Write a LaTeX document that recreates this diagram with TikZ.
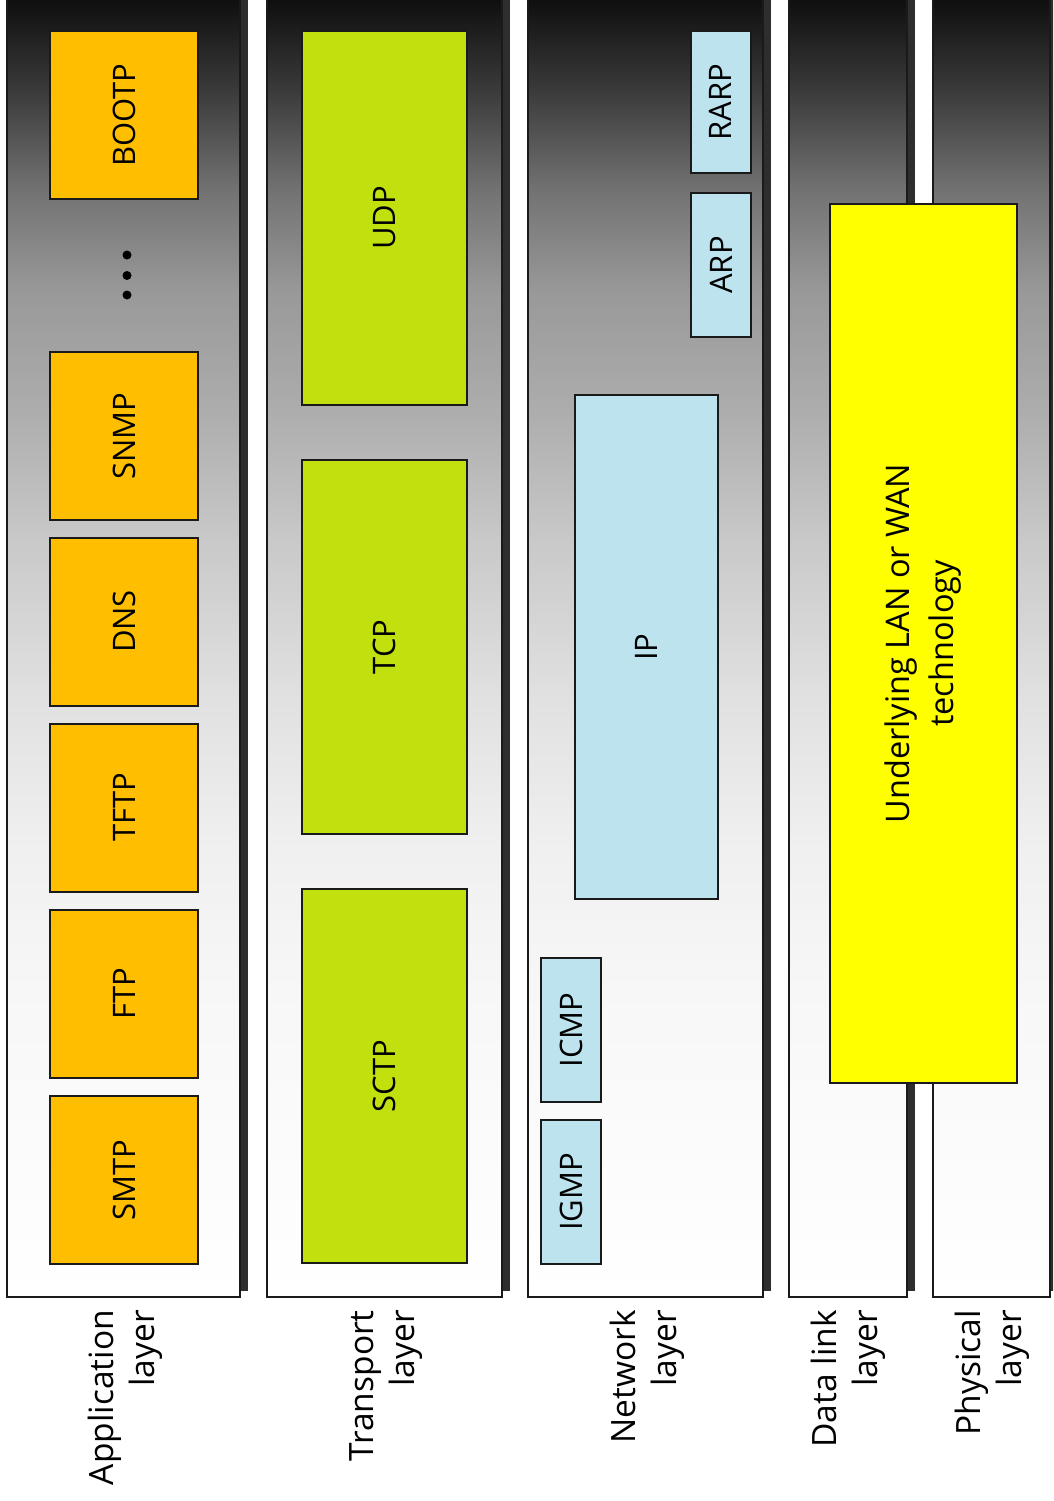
\documentclass[tikz,border=0pt]{standalone}
\usepackage{fontspec}
\setmainfont{Open Sans}
\definecolor{linec}{HTML}{1A1A1A}
\definecolor{shadowc}{HTML}{2E2E2E}
\definecolor{orangec}{HTML}{FFBF00}
\definecolor{greenc}{HTML}{C2E00E}
\definecolor{bluec}{HTML}{BCE3EE}
\definecolor{yellowc}{HTML}{FFFF00}
\definecolor{gA}{gray}{0.04}
\definecolor{gB}{gray}{0.23}
\definecolor{gC}{gray}{0.45}
\definecolor{gD}{gray}{0.60}
\definecolor{gE}{gray}{0.68}
\definecolor{gF}{gray}{0.79}
\definecolor{gG}{gray}{0.88}
\definecolor{gH}{gray}{0.94}
\definecolor{gI}{gray}{0.97}
\pgfdeclareverticalshading{colgrad}{100bp}{color(0bp)=(white); color(25bp)=(white); color(36.45bp)=(gI); color(42.23bp)=(gH); color(48.01bp)=(gG); color(53.8bp)=(gF); color(58.81bp)=(gE); color(63.43bp)=(gD); color(67.29bp)=(gC); color(71.14bp)=(gB); color(75bp)=(gA); color(100bp)=(gA)}
\begin{document}
\begin{tikzpicture}[x=1pt,y=-1pt,
  box/.style={draw=linec, line width=2, rotate=90, inner sep=0, outer sep=0,
    font=\fontsize{31}{37}\selectfont},
  appbox/.style={box, fill=orangec, minimum width=168, minimum height=148},
  trbox/.style={box, fill=greenc, minimum width=374, minimum height=165},
  netbox/.style={box, fill=bluec, minimum width=144, minimum height=60},
  lbl/.style={rotate=90, anchor=east, align=right, inner sep=0,
    font=\fontsize{33.5}{41}\selectfont},
  colframe/.style={shading=colgrad, draw=linec, line width=2}
]
\useasboundingbox (0,0) rectangle (1053,1501);
\fill[white] (0,0) rectangle (1053,1501);
\begin{scope}
\clip (0,0) rectangle (1053,1501);
\foreach \a/\b in {7/240,267/502,528/763,789/907,933/1050}{
  \fill[shadowc] (\a+8,-10) rectangle (\b+8,1291);
}
\foreach \a/\b in {7/240,267/502,528/763,789/907,933/1050}{
  \shade[colframe] (\a,-10) rectangle (\b,1297);
}
\end{scope}

% Application layer
\node[appbox] (bootp) at (124,115) {BOOTP};
\node[appbox] (snmp) at (124,436) {SNMP};
\node[appbox] (dns) at (124,621.5) {DNS};
\node[appbox] (tftp) at (124,807.5) {TFTP};
\node[appbox] (ftp) at (124,993.5) {FTP};
\node[appbox] (smtp) at (124,1180) {SMTP};
\foreach \y in {255,275.5,295}{
  \fill (127,\y) circle (4.5);
}

% Transport layer
\node[trbox] (udp) at (384.5,218) {UDP};
\node[trbox] (tcp) at (384.5,647) {TCP};
\node[trbox] (sctp) at (384.5,1076) {SCTP};

% Network layer
\node[box, fill=bluec, minimum width=504, minimum height=143] (ip) at (646.5,647) {IP};
\node[netbox, minimum width=142] (rarp) at (720.5,102) {RARP};
\node[netbox] (arp) at (721,265) {ARP};
\node[netbox] (icmp) at (571,1030) {ICMP};
\node[netbox] (igmp) at (571,1192) {IGMP};

% Data link / physical
\node[box, fill=yellowc, minimum width=879, minimum height=187, align=center,
  font=\fontsize{32.5}{44}\selectfont] (lanwan) at (923.5,643.5)
  {Underlying LAN or WAN\\technology};

% Layer labels
\node[lbl] (lapp) at (125,1310) {Application\\layer};
\node[lbl] (ltr) at (386,1310) {Transport\\layer};
\node[lbl] (lnet) at (647,1310) {Network\\layer};
\node[lbl] (ldl) at (848,1310) {Data link\\layer};
\node[lbl] (lph) at (992,1310) {Physical\\layer};
\end{tikzpicture}
\end{document}
